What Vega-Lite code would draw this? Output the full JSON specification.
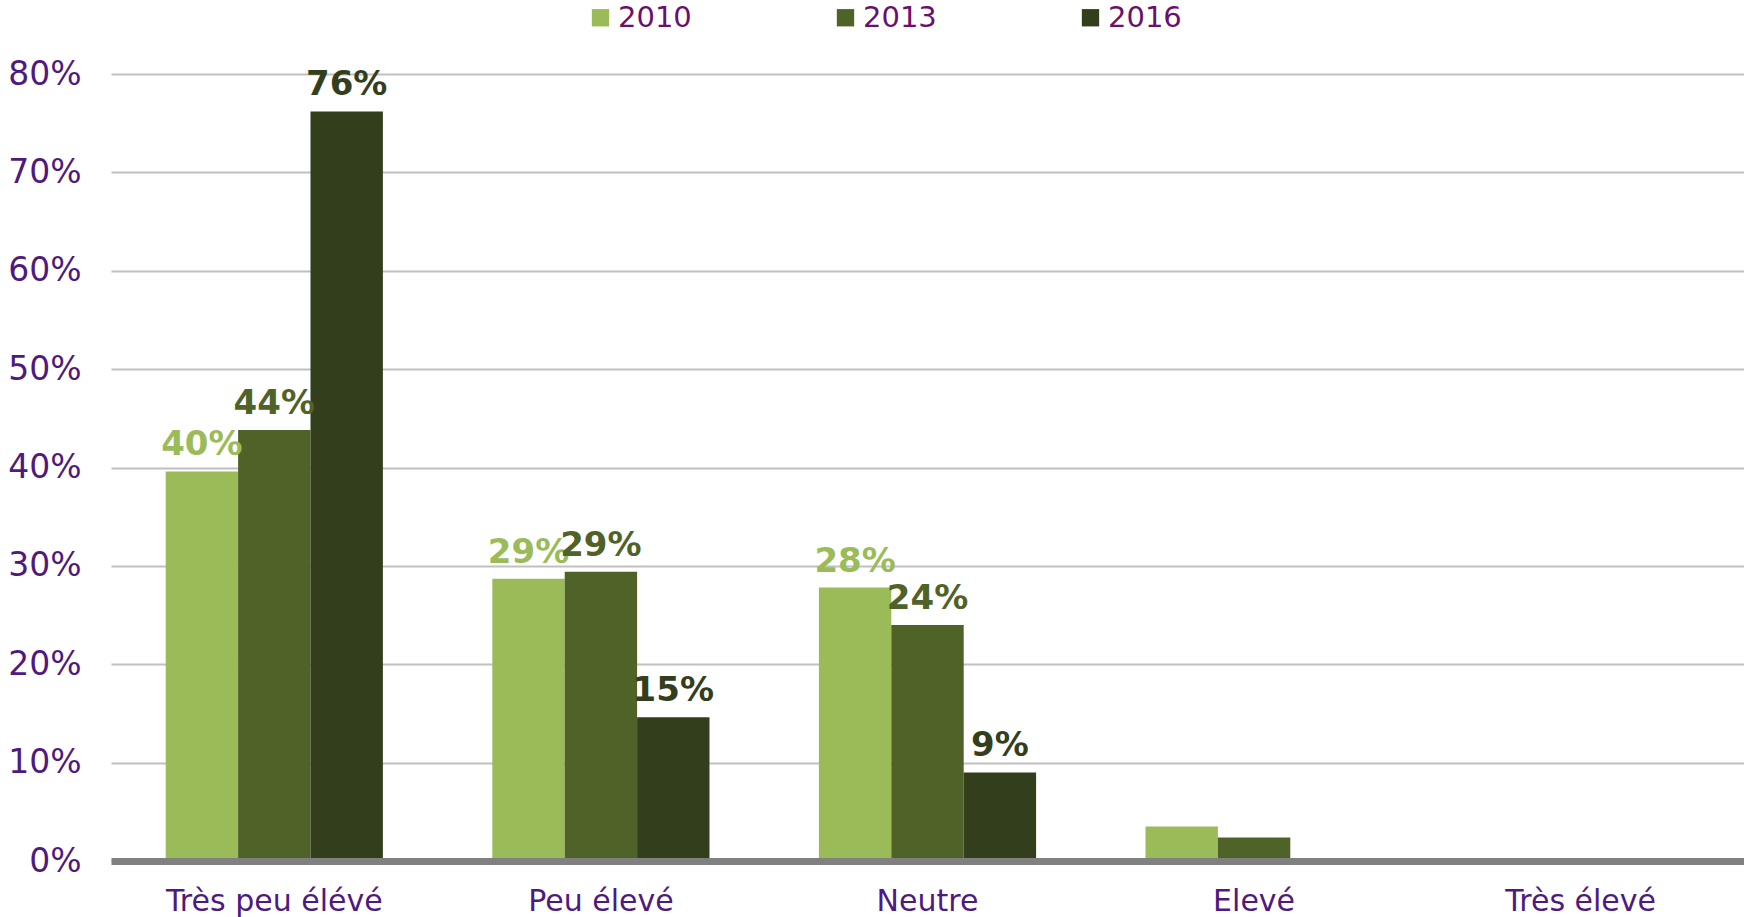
{
  "$schema": "https://vega.github.io/schema/vega-lite/v6.json",
  "width": 1633,
  "height": 787,
  "autosize": {"type": "none"},
  "padding": {"left": 111, "top": 74, "right": 0, "bottom": 56},
  "background": "white",
  "config": {
    "view": {"stroke": null},
    "font": "DejaVu Sans"
  },
  "data": {
    "values": [
      {"cat": "Très peu élévé", "year": "2010", "value": 0.396},
      {"cat": "Très peu élévé", "year": "2013", "value": 0.438},
      {"cat": "Très peu élévé", "year": "2016", "value": 0.762},
      {"cat": "Peu élevé", "year": "2010", "value": 0.287},
      {"cat": "Peu élevé", "year": "2013", "value": 0.294},
      {"cat": "Peu élevé", "year": "2016", "value": 0.146},
      {"cat": "Neutre", "year": "2010", "value": 0.278},
      {"cat": "Neutre", "year": "2013", "value": 0.240},
      {"cat": "Neutre", "year": "2016", "value": 0.090},
      {"cat": "Elevé", "year": "2010", "value": 0.035},
      {"cat": "Elevé", "year": "2013", "value": 0.024},
      {"cat": "Elevé", "year": "2016", "value": 0.0},
      {"cat": "Très élevé", "year": "2010", "value": 0.003},
      {"cat": "Très élevé", "year": "2013", "value": 0.0},
      {"cat": "Très élevé", "year": "2016", "value": 0.0}
    ]
  },
  "encoding": {
    "x": {
      "field": "cat",
      "type": "nominal",
      "sort": ["Très peu élévé", "Peu élevé", "Neutre", "Elevé", "Très élevé"],
      "scale": {"paddingInner": 0.335, "paddingOuter": 0.1675},
      "axis": {
        "title": null,
        "labelAngle": 0,
        "labelFontSize": 30,
        "labelColor": "#4E1A7F",
        "labelPadding": 25,
        "labelLimit": 0,
        "ticks": false,
        "domainColor": "#808080",
        "domainWidth": 7,
        "zindex": 1
      }
    },
    "xOffset": {"field": "year", "type": "nominal"},
    "y": {
      "field": "value",
      "type": "quantitative",
      "scale": {"domain": [0, 0.8], "nice": false},
      "axis": {
        "title": null,
        "format": ".0%",
        "values": [0, 0.1, 0.2, 0.3, 0.4, 0.5, 0.6, 0.7, 0.8],
        "labelFontSize": 33,
        "labelColor": "#4E1A7F",
        "labelPadding": 30,
        "ticks": false,
        "domain": false,
        "gridColor": "#C0C0C0",
        "gridWidth": 2
      }
    }
  },
  "layer": [
    {
      "mark": {"type": "bar"},
      "encoding": {
        "color": {
          "field": "year",
          "type": "nominal",
          "scale": {"domain": ["2010", "2013", "2016"], "range": ["#9BBB59", "#4F6228", "#333F1C"]},
          "legend": {
            "title": null,
            "orient": "none",
            "direction": "horizontal",
            "legendX": 475,
            "legendY": -71,
            "symbolType": "square",
            "symbolSize": 300,
            "symbolStrokeWidth": 0,
            "labelFontSize": 29,
            "labelColor": "#6A0F6E",
            "labelOffset": 3,
            "labelLimit": 0,
            "columnPadding": 139
          }
        }
      }
    },
    {
      "transform": [{"filter": "datum.value >= 0.05"}],
      "mark": {"type": "text", "fontSize": 34, "fontWeight": "bold", "baseline": "alphabetic", "dy": -16},
      "encoding": {
        "text": {"field": "value", "type": "quantitative", "format": ".0%"},
        "color": {
          "field": "year",
          "type": "nominal",
          "scale": {"domain": ["2010", "2013", "2016"], "range": ["#9BBB59", "#4F6228", "#333F1C"]},
          "legend": null
        }
      }
    }
  ]
}
